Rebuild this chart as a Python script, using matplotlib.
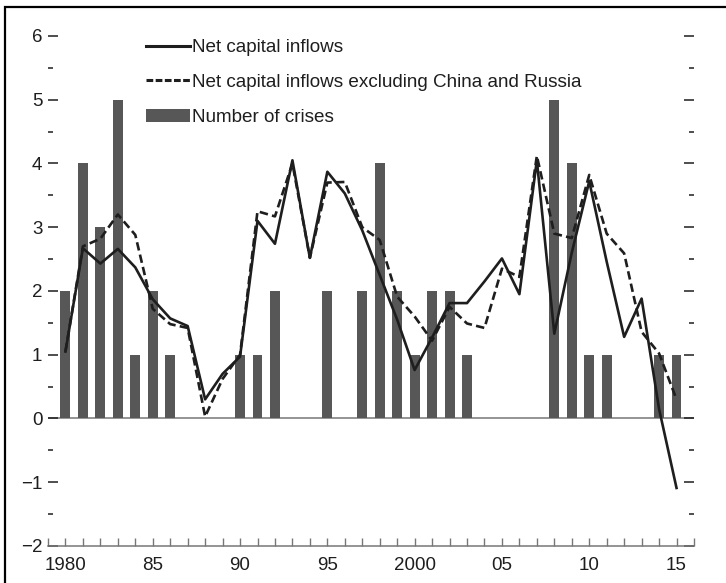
import matplotlib

matplotlib.use("Agg")
import matplotlib.pyplot as plt
from matplotlib.lines import Line2D
from matplotlib.patches import Patch, Rectangle
from matplotlib.ticker import FixedLocator, MultipleLocator

FONT = ["Liberation Sans Narrow", "Liberation Sans", "DejaVu Sans"]
INK = "#1E1E1E"
BAR = "#575757"
AXIS_GRAY = "#777777"

years = list(range(1980, 2016))
crises = [2, 4, 3, 5, 1, 2, 1, 0, 0, 0,
          1, 1, 2, 0, 0, 2, 0, 2, 4, 2,
          1, 2, 2, 1, 0, 0, 0, 0, 5, 4,
          1, 1, 0, 0, 1, 1]
inflows = [1.05, 2.67, 2.43, 2.66, 2.37, 1.87, 1.57, 1.45, 0.30, 0.70,
           0.97, 3.10, 2.74, 4.05, 2.52, 3.87, 3.53, 2.95, 2.25, 1.55,
           0.76, 1.27, 1.81, 1.81, 2.15, 2.51, 1.95, 4.05, 1.33, 2.60,
           3.72, 2.46, 1.28, 1.88, 0.15, -1.09]
inflows_ex = [1.05, 2.70, 2.82, 3.20, 2.88, 1.72, 1.48, 1.42, 0.03, 0.62,
              1.00, 3.25, 3.17, 4.00, 2.52, 3.70, 3.71, 3.00, 2.80, 1.91,
              1.60, 1.22, 1.75, 1.49, 1.42, 2.35, 2.22, 4.12, 2.90, 2.83,
              3.82, 2.90, 2.59, 1.36, 1.02, 0.30]
xlabel_years = [1980, 1985, 1990, 1995, 2000, 2005, 2010, 2015]
xlabel_text = ["1980", "85", "90", "95", "2000", "05", "10", "15"]

fig = plt.figure(figsize=(7.26, 5.83), dpi=100)
fig.patch.set_facecolor("white")
# outer frame (right and bottom edges fall outside the picture)
fig.add_artist(Rectangle((0.0069, -0.02), 1.05, 1.008, transform=fig.transFigure,
                         fill=False, edgecolor="black", linewidth=1.6))

ax = fig.add_axes([0.0661, 0.0635, 0.8898, 0.8748])
ax.bar(years, crises, width=0.57, color=BAR, zorder=2)
ax.axhline(0, color=AXIS_GRAY, linewidth=1.1, zorder=1)
ax.plot(years, inflows_ex, color=INK, linewidth=1.9, linestyle=(0, (3.2, 1.6)), zorder=3)
ax.plot(years, inflows, color=INK, linewidth=1.9, zorder=4)

ax.set_xlim(1979, 2016)
ax.set_ylim(-2, 6)
for side in ("top", "right", "left"):
    ax.spines[side].set_visible(False)
ax.spines["bottom"].set_color(AXIS_GRAY)
ax.spines["bottom"].set_linewidth(1.1)

ax.xaxis.set_major_locator(FixedLocator(list(range(1979, 2017))))
ax.set_xticklabels([xlabel_text[xlabel_years.index(y)] if y in xlabel_years else ""
                    for y in range(1979, 2017)])
ax.tick_params(axis="x", direction="in", length=6, width=1.0, color=AXIS_GRAY,
               pad=8, labelsize=13.5, labelcolor=INK)

ax.yaxis.set_major_locator(MultipleLocator(1))
ax.yaxis.set_minor_locator(MultipleLocator(0.5))
ax.tick_params(axis="y", which="both", direction="in", left=True, right=True,
               labelleft=True, labelright=False, color=INK, width=1.1)
ax.tick_params(axis="y", which="major", length=7, pad=4, labelsize=13.5, labelcolor=INK)
ax.tick_params(axis="y", which="minor", length=3.5)

for lab in ax.get_xticklabels() + ax.get_yticklabels():
    lab.set_family(FONT)

handles = [
    Line2D([], [], color=INK, linewidth=2.2),
    Line2D([], [], color=INK, linewidth=2.2, linestyle=(0, (2.2, 0.8))),
    Patch(facecolor=BAR, edgecolor="none"),
]
labels = ["Net capital inflows",
          "Net capital inflows excluding China and Russia",
          "Number of crises"]
ax.legend(handles, labels, loc="upper left", bbox_to_anchor=(0.152, 0.994),
          frameon=False, borderpad=0, borderaxespad=0, handlelength=2.3,
          handletextpad=0.15, labelspacing=0.93,
          prop={"family": FONT, "size": 13.6}, labelcolor=INK)

fig.savefig("out.png", dpi=100, facecolor="white")
